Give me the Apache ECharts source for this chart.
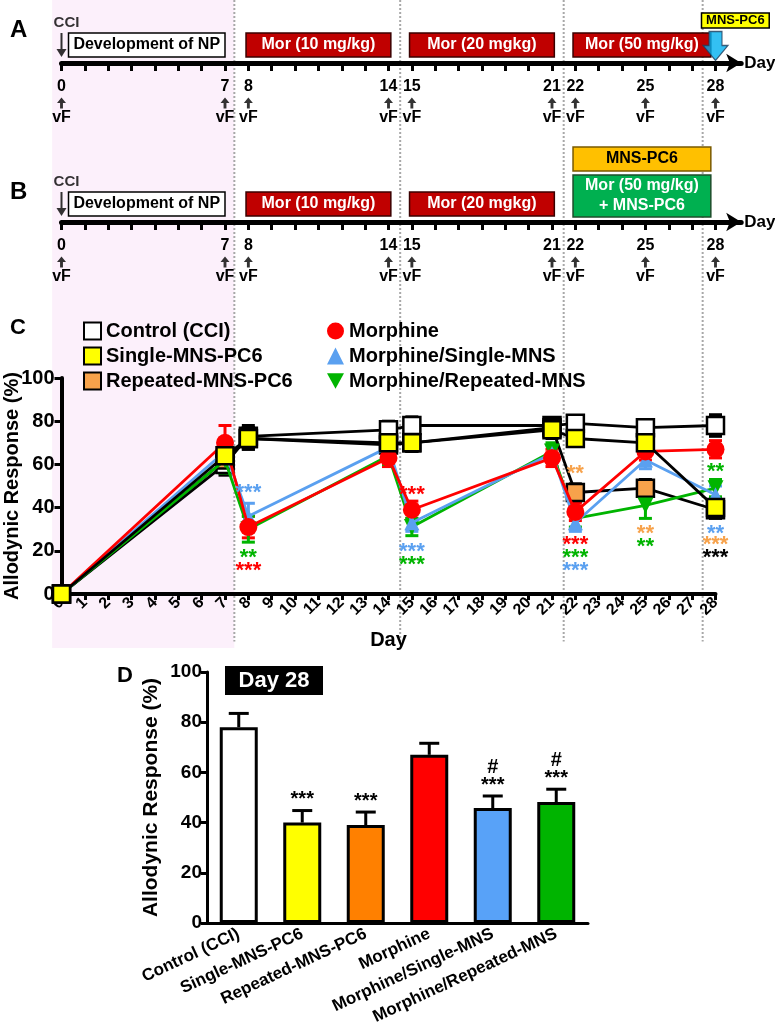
<!DOCTYPE html>
<html>
<head>
<meta charset="utf-8">
<script src="https://cdn.jsdelivr.net/npm/echarts@6.0.0/dist/echarts.min.js"></script>
<style>
html, body { margin: 0; padding: 0; background: #fff; }
#fig { width: 775px; height: 1036px; }
</style>
</head>
<body>
<div id="fig"></div>
<script>
// ---------- data ----------
// timeline (panels A, B)
var tlTickDays = [0,1,2,3,4,5,6,7,8,9,10,11,12,13,14,15,16,17,18,19,20,21,22,23,24,25,26,27,28];
var vfDays = [0, 7, 8, 14, 15, 21, 22, 25, 28];
var boxStartA = [0.3, 7.9, 14.9, 21.9, 27.4];
var boxEndA = [7.0, 14.1, 21.1, 27.8, 30.3];
var boxLabelA = ['Development of NP', 'Mor (10 mg/kg)', 'Mor (20 mgkg)', 'Mor (50 mg/kg)', 'MNS-PC6'];
var boxKindA = ['np', 'mor', 'mor', 'mor', 'mnsY'];
var boxStartB = [0.3, 7.9, 14.9, 21.9, 21.9];
var boxEndB = [7.0, 14.1, 21.1, 27.8, 27.8];
var boxLabelB = ['Development of NP', 'Mor (10 mg/kg)', 'Mor (20 mgkg)', 'Mor (50 mg/kg)\n+ MNS-PC6', 'MNS-PC6'];
var boxKindB = ['np', 'mor', 'mor', 'combo', 'mnsO'];
var shadeDays = [-0.4, 7.4];
var dividerDays = [7.4, 14.5, 21.5, 27.45];

// panel C
var days = [0, 7, 8, 14, 15, 21, 22, 25, 28];
var groups = ['Control (CCI)', 'Single-MNS-PC6', 'Repeated-MNS-PC6', 'Morphine', 'Morphine/Single-MNS', 'Morphine/Repeated-MNS'];
var control = [0, 60, 73, 76, 78, 78, 79, 77, 78];
var single = [0, 64, 72, 70, 70, 76, 72, 70, 40];
var repeated = [0, 62, 72, 69, 70, 77, 47, 49, 39];
var morphine = [0, 70, 31, 63, 39, 63, 38, 66, 67];
var morSingle = [0, 66, 36, 68, 33, 65, 33, 62, 46];
var morRepeated = [0, 62, 30, 64, 31, 66, 35, 41, 49];
var controlErr = [0, 5, 5, 4, 4, 3, 3, 3, 5];
var singleErr = [0, 6, 5, 4, 4, 4, 3, 4, 4];
var repeatedErr = [0, 5, 5, 4, 4, 3, 4, 4, 4];
var morphineErr = [0, 8, 5, 4, 4, 4, 4, 4, 4];
var morSingleErr = [0, 6, 6, 4, 4, 4, 4, 4, 4];
var morRepeatedErr = [0, 6, 6, 4, 4, 4, 4, 6, 4];
var sigDays = [8, 8, 8, 15, 15, 15, 22, 22, 22, 22, 25, 25, 28, 28, 28, 28];
var sigVals = [49, 19, 13, 48, 22, 16, 58, 25, 19, 13, 30, 24, 59, 30, 25, 19];
var sigText = ['***', '**', '***', '***', '***', '***', '**', '***', '***', '***', '**', '**', '**', '**', '***', '***'];
var sigGroup = [4, 5, 3, 3, 4, 5, 2, 3, 5, 4, 2, 5, 5, 4, 2, 0];

// panel D (day 28)
var day28 = [78, 40, 39, 67, 45.8, 48.2];
var day28Err = [5.5, 4.8, 5.2, 4.6, 4.8, 5.1];
var day28Sig = ['', '***', '***', '', '#\n***', '#\n***'];

// ---------- styles ----------
var FONT = '"Liberation Sans", Arial, sans-serif';
var NARROW = '"Liberation Sans Narrow", "Liberation Sans", Arial, sans-serif';
var fillCol = ['#ffffff', '#ffff00', '#f7a24b', '#ff0000', '#5aa0f0', '#00b400'];
var barCol = ['#ffffff', '#ffff00', '#ff8000', '#ff0000', '#58a2f8', '#00b400'];
var lineCol = ['#000', '#000', '#000', '#ff0000', '#5aa0f0', '#00b400'];
var errCol = ['#000', '#000', '#000', '#ff0000', '#5aa0f0', '#00b400'];
var sigCol = ['#000', '#000', '#f7a24b', '#ff0000', '#5aa0f0', '#00b400'];
var boxStyle = {
  np:    { fill: '#ffffff', stroke: '#000', text: '#000', y0: 6, y1: 30, fs: 16 },
  mor:   { fill: '#c00000', stroke: '#3a0000', text: '#fff', y0: 6, y1: 30, fs: 16 },
  mnsY:  { fill: '#ffff00', stroke: '#000', text: '#000', y0: 35, y1: 50, fs: 13 },
  mnsO:  { fill: '#ffc000', stroke: '#7a5a00', text: '#000', y0: 51, y1: 75, fs: 16 },
  combo: { fill: '#00b050', stroke: '#1e4d2b', text: '#fff', y0: 5, y1: 47, fs: 16 }
};
var DOWN_TRI = 'path://M0,0 L10,0 L5,9 Z';
var UP_ARROW = 'path://M5,0 L10,6 L6.6,6 L6.6,12 L3.4,12 L3.4,6 L0,6 Z';
var CCI_ARROW = 'path://M4,0 L6,0 L6,16 L10,16 L5,24 L0,16 L4,16 Z';
var BIG_ARROW = 'path://M6,0 L19,0 L19,14 L25,14 L12.5,29 L0,14 L6,14 Z';

var chart = echarts.init(document.getElementById('fig'), null, { renderer: 'canvas' });

function boxRenderer(labels, kinds) {
  return function (params, api) {
    var st = boxStyle[kinds[params.dataIndex]];
    var p0 = api.coord([api.value(0), st.y1]);
    var p1 = api.coord([api.value(1), st.y0]);
    return {
      type: 'group',
      children: [
        { type: 'rect', shape: { x: p0[0], y: p0[1], width: p1[0] - p0[0], height: p1[1] - p0[1] },
          style: { fill: st.fill, stroke: st.stroke, lineWidth: 1.5 } },
        { type: 'text', style: { text: labels[params.dataIndex], x: (p0[0] + p1[0]) / 2, y: (p0[1] + p1[1]) / 2,
          align: 'center', verticalAlign: 'middle', fill: st.text, font: 'bold ' + st.fs + 'px ' + NARROW, lineHeight: 20 } }
      ]
    };
  };
}

function errRenderer(color, cap, upOnly) {
  return function (params, api) {
    var e = api.value(2);
    if (!e) return null;
    var x = api.value(0), y = api.value(1);
    var top = api.coord([x, y + e]);
    var bot = api.coord([x, upOnly ? y : y - e]);
    var kids = [
      { type: 'line', shape: { x1: top[0], y1: top[1], x2: bot[0], y2: bot[1] }, style: { stroke: color, lineWidth: 3 } },
      { type: 'line', shape: { x1: top[0] - cap / 2, y1: top[1], x2: top[0] + cap / 2, y2: top[1] }, style: { stroke: color, lineWidth: 3 } }
    ];
    if (!upOnly) kids.push({ type: 'line', shape: { x1: bot[0] - cap / 2, y1: bot[1], x2: bot[0] + cap / 2, y2: bot[1] }, style: { stroke: color, lineWidth: 3 } });
    return { type: 'group', children: kids };
  };
}

function timelineX(gridIndex) {
  return {
    gridIndex: gridIndex, type: 'value', min: 0, max: 29.1,
    name: 'Day', nameLocation: 'end', nameGap: 3,
    nameTextStyle: { fontFamily: NARROW, fontWeight: 'bold', fontSize: 17, color: '#000', verticalAlign: 'middle' },
    axisLine: { onZero: false, lineStyle: { color: '#000', width: 5 }, symbol: ['none', 'arrow'], symbolSize: [14, 15] },
    axisTick: { show: true, customValues: tlTickDays, length: 8, lineStyle: { color: '#000', width: 3 } },
    splitLine: { show: false },
    axisLabel: {
      customValues: vfDays, margin: 14, color: '#000',
      formatter: function (v) { return '{d|' + v + '}\n{g| }\n{v|vF}'; },
      rich: {
        d: { fontFamily: NARROW, fontWeight: 'bold', fontSize: 16, lineHeight: 20, color: '#000' },
        g: { fontSize: 10, lineHeight: 12 },
        v: { fontFamily: NARROW, fontWeight: 'bold', fontSize: 16, lineHeight: 18, color: '#000' }
      }
    }
  };
}
function hiddenY(gridIndex, min, max) {
  return { gridIndex: gridIndex, type: 'value', min: min, max: max, show: false, splitLine: { show: false } };
}

var lineSeries = [
  { name: groups[0], data: control, symbol: 'rect', size: 17, order: 0 },
  { name: groups[2], data: repeated, symbol: 'rect', size: 17, order: 2 },
  { name: groups[5], data: morRepeated, symbol: DOWN_TRI, size: 16, order: 5 },
  { name: groups[4], data: morSingle, symbol: 'triangle', size: 15, order: 4 },
  { name: groups[3], data: morphine, symbol: 'circle', size: 18, order: 3 },
  { name: groups[1], data: single, symbol: 'rect', size: 17, order: 1 }
];
var errArrays = [controlErr, singleErr, repeatedErr, morphineErr, morSingleErr, morRepeatedErr];
var valArrays = [control, single, repeated, morphine, morSingle, morRepeated];

var series = [];
// background: shading and dotted dividers
series.push({
  type: 'custom', xAxisIndex: 0, yAxisIndex: 0, z: -10, silent: true,
  data: [[shadeDays[0], shadeDays[1]]],
  renderItem: function (params, api) {
    var p0 = api.coord([api.value(0), 1]);
    var p1 = api.coord([api.value(1), 0]);
    return { type: 'rect', shape: { x: p0[0], y: p0[1], width: p1[0] - p0[0], height: p1[1] - p0[1] }, style: { fill: '#fcf0fb' } };
  }
});
series.push({
  type: 'custom', xAxisIndex: 0, yAxisIndex: 0, z: -9, silent: true,
  data: dividerDays.map(function (d) { return [d]; }),
  renderItem: function (params, api) {
    var p0 = api.coord([api.value(0), 1]);
    var p1 = api.coord([api.value(0), 0.01]);
    return { type: 'line', shape: { x1: p0[0], y1: p0[1], x2: p1[0], y2: p1[1] }, style: { stroke: '#a8a8a8', lineWidth: 2, lineDash: [2, 2] } };
  }
});
// timeline boxes
series.push({ type: 'custom', xAxisIndex: 1, yAxisIndex: 1, clip: false,
  data: boxStartA.map(function (s, i) { return [s, boxEndA[i]]; }), renderItem: boxRenderer(boxLabelA, boxKindA) });
series.push({ type: 'custom', xAxisIndex: 2, yAxisIndex: 2, clip: false,
  data: boxStartB.map(function (s, i) { return [s, boxEndB[i]]; }), renderItem: boxRenderer(boxLabelB, boxKindB) });
// vF arrows and CCI arrows
[1, 2].forEach(function (g) {
  series.push({ type: 'scatter', xAxisIndex: g, yAxisIndex: g, symbol: UP_ARROW, symbolSize: [9, 11], clip: false,
    itemStyle: { color: '#000' }, silent: true, z: 5,
    data: vfDays.map(function (d) { return [d, -40]; }) });
  series.push({ type: 'scatter', xAxisIndex: g, yAxisIndex: g, symbol: CCI_ARROW, symbolSize: [10, 24], clip: false,
    itemStyle: { color: '#000' }, silent: true, z: 5, data: [[0, 18]],
    label: { show: true, position: 'top', distance: 3, formatter: 'CCI', fontFamily: NARROW, fontWeight: 'bold', fontSize: 15, color: '#000', offset: [5, 0] } });
});
// blue MNS-PC6 arrow on panel A
series.push({ type: 'scatter', xAxisIndex: 1, yAxisIndex: 1, symbol: BIG_ARROW, symbolSize: [25, 29], clip: false,
  itemStyle: { color: '#00b0f0', borderColor: '#1f3c5a', borderWidth: 1.2 }, silent: true, z: 6, data: [[28, 17]] });

// panel C error bars
valArrays.forEach(function (vals, gi) {
  series.push({ type: 'custom', xAxisIndex: 3, yAxisIndex: 3, z: 3, silent: true,
    data: days.map(function (d, i) { return [d, vals[i], errArrays[gi][i]]; }),
    renderItem: errRenderer(errCol[gi], 13, false) });
});
// panel C lines
lineSeries.forEach(function (s, k) {
  var gi = s.order;
  series.push({
    type: 'line', name: s.name, xAxisIndex: 3, yAxisIndex: 3, z: 4 + k, clip: false,
    data: days.map(function (d, i) { return [d, s.data[i]]; }),
    symbol: s.symbol, symbolSize: s.size, showAllSymbol: true,
    lineStyle: { color: lineCol[gi], width: 2.8 },
    itemStyle: { color: fillCol[gi], borderColor: gi < 3 ? '#000' : fillCol[gi], borderWidth: gi < 3 ? 2.5 : 0, opacity: 1 },
    emphasis: { disabled: true }
  });
});
// panel C significance marks
series.push({ type: 'custom', xAxisIndex: 3, yAxisIndex: 3, z: 20, silent: true, clip: false,
  data: sigDays.map(function (d, i) { return [d, sigVals[i]]; }),
  renderItem: function (params, api) {
    var p = api.coord([api.value(0), api.value(1)]);
    return { type: 'text', style: { text: sigText[params.dataIndex], x: p[0], y: p[1] + 5, align: 'center', verticalAlign: 'middle',
      fill: sigCol[sigGroup[params.dataIndex]], font: 'bold 22px ' + FONT } };
  } });

// panel D bars
series.push({
  type: 'bar', xAxisIndex: 4, yAxisIndex: 4, barWidth: 38, z: 3,
  data: day28.map(function (v, i) { return { value: v, itemStyle: { color: barCol[i] } }; }),
  itemStyle: { borderColor: '#000', borderWidth: 3 }
});
series.push({ type: 'custom', xAxisIndex: 4, yAxisIndex: 4, z: 2, silent: true,
  data: day28.map(function (v, i) { return [i, v, day28Err[i]]; }), renderItem: errRenderer('#000', 20, true) });
series.push({ type: 'custom', xAxisIndex: 4, yAxisIndex: 4, z: 5, silent: true,
  data: day28.map(function (v, i) { return [i, v + day28Err[i]]; }),
  renderItem: function (params, api) {
    var t = day28Sig[params.dataIndex];
    if (!t) return null;
    var p = api.coord([api.value(0), api.value(1)]);
    return { type: 'text', style: { text: t, x: p[0], y: p[1] - 2, align: 'center', verticalAlign: 'bottom',
      fill: '#000', font: 'bold 20px ' + FONT, lineHeight: 18 } };
  } });

var option = {
  animation: false,
  textStyle: { fontFamily: FONT },
  grid: [
    { left: 61.5, width: 654, top: 0, height: 648, outerBoundsMode: 'none' },
    { left: 61.5, width: 679.7, top: 0, height: 63, outerBoundsMode: 'none' },
    { left: 61.5, width: 679.7, top: 142, height: 80, outerBoundsMode: 'none' },
    { left: 61.5, width: 654, top: 378, height: 216, outerBoundsMode: 'none' },
    { left: 207, width: 381, top: 672, height: 251, outerBoundsMode: 'none' }
  ],
  xAxis: [
    { gridIndex: 0, type: 'value', min: 0, max: 28, show: false },
    timelineX(1),
    timelineX(2),
    {
      gridIndex: 3, type: 'value', min: 0, max: 28, interval: 1,
      name: 'Day', nameLocation: 'middle', nameGap: 36, nameMoveOverlap: false,
      nameTextStyle: { fontFamily: NARROW, fontWeight: 'bold', fontSize: 20, color: '#000' },
      axisLine: { onZero: false, lineStyle: { color: '#000', width: 4 } },
      axisTick: { length: 6, lineStyle: { color: '#000', width: 3 } },
      splitLine: { show: false },
      axisLabel: { rotate: 45, margin: 6, color: '#000', fontFamily: NARROW, fontWeight: 'bold', fontSize: 16, hideOverlap: false }
    },
    {
      gridIndex: 4, type: 'category', data: groups,
      axisLine: { lineStyle: { color: '#000', width: 3 } },
      axisTick: { alignWithLabel: true, length: 6, lineStyle: { color: '#000', width: 3 } },
      axisLabel: { interval: 0, rotate: 25, margin: 10, color: '#000', fontWeight: 'bold', fontSize: 17 }
    }
  ],
  yAxis: [
    hiddenY(0, 0, 1),
    hiddenY(1, 0, 63),
    hiddenY(2, 0, 80),
    {
      gridIndex: 3, type: 'value', min: 0, max: 100, interval: 20,
      name: 'Allodynic Response (%)', nameLocation: 'middle', nameGap: 39, nameMoveOverlap: false,
      nameTextStyle: { fontWeight: 'bold', fontSize: 20, color: '#000' },
      axisLine: { show: true, lineStyle: { color: '#000', width: 4 } },
      axisTick: { show: true, length: 7, lineStyle: { color: '#000', width: 3 } },
      splitLine: { show: false },
      axisLabel: { color: '#000', fontWeight: 'bold', fontSize: 20, margin: 7 }
    },
    {
      gridIndex: 4, type: 'value', min: 0, max: 100, interval: 20,
      name: 'Allodynic Response (%)', nameLocation: 'middle', nameGap: 45, nameMoveOverlap: false,
      nameTextStyle: { fontWeight: 'bold', fontSize: 21, color: '#000' },
      axisLine: { show: true, lineStyle: { color: '#000', width: 3 } },
      axisTick: { show: true, length: 6, lineStyle: { color: '#000', width: 3 } },
      splitLine: { show: false },
      axisLabel: { color: '#000', fontWeight: 'bold', fontSize: 19, margin: 5 }
    }
  ],
  legend: [
    {
      left: 78, top: 316, orient: 'vertical', itemGap: 5, itemWidth: 17, itemHeight: 17, selectedMode: false,
      textStyle: { fontWeight: 'bold', fontSize: 20, color: '#000' },
      data: [
        { name: groups[0], icon: 'rect' },
        { name: groups[1], icon: 'rect' },
        { name: groups[2], icon: 'rect' }
      ]
    },
    {
      left: 322, top: 316, orient: 'vertical', itemGap: 5, itemWidth: 17, itemHeight: 17, selectedMode: false,
      textStyle: { fontWeight: 'bold', fontSize: 20, color: '#000' },
      data: [
        { name: groups[3], icon: 'circle' },
        { name: groups[4], icon: 'triangle' },
        { name: groups[5], icon: DOWN_TRI }
      ]
    }
  ],
  graphic: [
    { type: 'text', left: 10, top: 18, style: { text: 'A', font: 'bold 24px ' + FONT, fill: '#000' } },
    { type: 'text', left: 10, top: 180, style: { text: 'B', font: 'bold 24px ' + FONT, fill: '#000' } },
    { type: 'text', left: 10, top: 317, style: { text: 'C', font: 'bold 22px ' + FONT, fill: '#000' } },
    { type: 'text', left: 117, top: 665, style: { text: 'D', font: 'bold 22px ' + FONT, fill: '#000' } },
    { type: 'group', left: 225, top: 666, children: [
      { type: 'rect', shape: { x: 0, y: 0, width: 98, height: 29 }, style: { fill: '#000' } },
      { type: 'text', style: { text: 'Day 28', x: 49, y: 15, align: 'center', verticalAlign: 'middle', font: 'bold 22px ' + FONT, fill: '#fff' } }
    ] }
  ],
  series: series
};
chart.setOption(option);
</script>
</body>
</html>
